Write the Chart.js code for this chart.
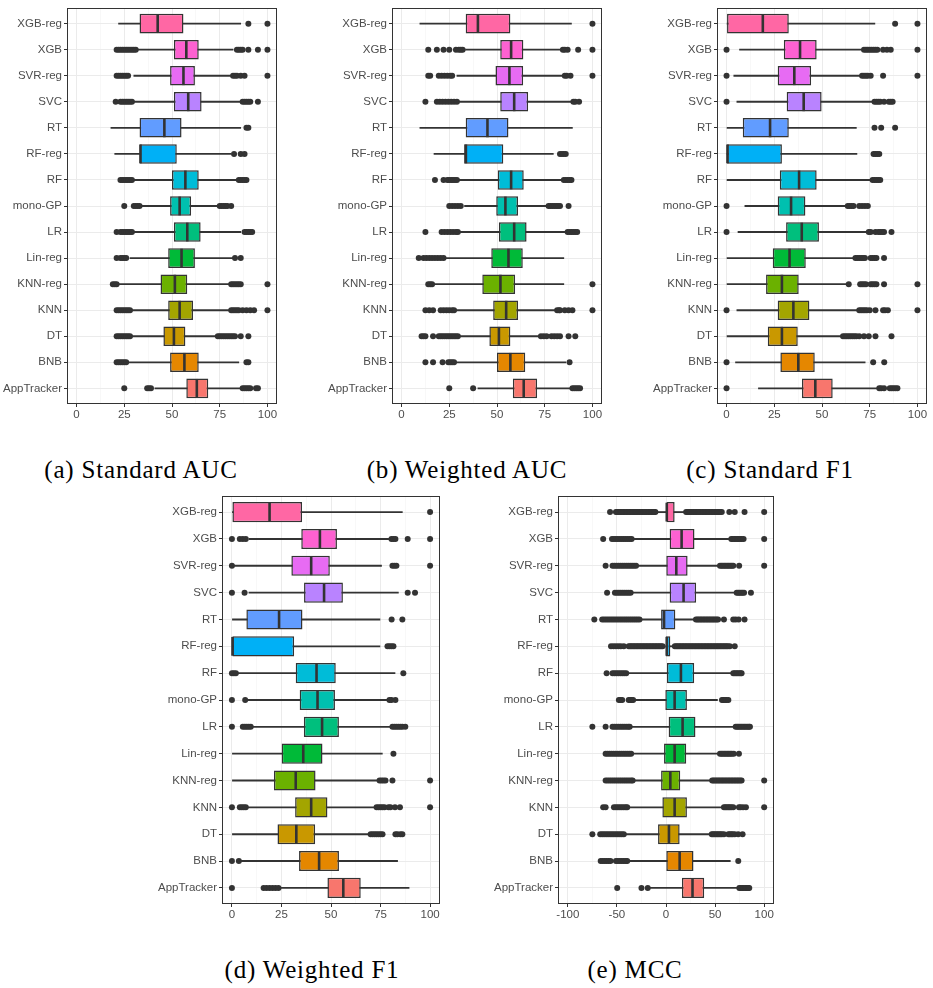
<!DOCTYPE html>
<html>
<head>
<meta charset="utf-8">
<script src="https://cdn.jsdelivr.net/npm/chart.js@4.4.1/dist/chart.umd.min.js"></script>
<style>
  body { margin: 0; background: #fff; width: 933px; height: 988px; position: relative; overflow: hidden; }
  canvas { position: absolute; }
  .cap {
    position: absolute; transform: translateX(-50%); white-space: nowrap;
    font-family: "Liberation Serif", serif; font-size: 25px; line-height: 25px;
    letter-spacing: 0.8px; color: #000;
  }
</style>
</head>
<body>
<canvas id="pa"></canvas>
<canvas id="pb"></canvas>
<canvas id="pc"></canvas>
<canvas id="pd"></canvas>
<canvas id="pe"></canvas>
<div class="cap" style="left:141px; top:457px">(a) Standard AUC</div>
<div class="cap" style="left:467px; top:457px">(b) Weighted AUC</div>
<div class="cap" style="left:770px; top:457px">(c) Standard F1</div>
<div class="cap" style="left:312px; top:957px">(d) Weighted F1</div>
<div class="cap" style="left:635px; top:957px">(e) MCC</div>
<script>
// methods, top to bottom
const methods = ["XGB-reg", "XGB", "SVR-reg", "SVC", "RT", "RF-reg", "RF", "mono-GP",
  "LR", "Lin-reg", "KNN-reg", "KNN", "DT", "BNB", "AppTracker"];
const boxColors = ["#FF67A4", "#FD61D1", "#E76BF3", "#B983FF", "#619CFF", "#00B0F6", "#00BCD8", "#00C0AF",
  "#00BF7D", "#00BA38", "#6BB100", "#A3A500", "#C99800", "#E58700", "#F8766D"];

const pctTicks = [0, 12.5, 25, 37.5, 50, 62.5, 75, 87.5, 100];
const pctLabels = [0, 25, 50, 75, 100];
const mccTicks = [-100, -75, -50, -25, 0, 25, 50, 75, 100];
const mccLabels = [-100, -50, 0, 50, 100];

// [whisker low, Q1, median, Q3, whisker high] per method
const aucStdStats = [
  [22, 33, 42.5, 56, 86], [32, 51, 57.5, 64, 82], [30, 49, 56, 62, 81], [30, 51, 58.5, 65.5, 86],
  [18, 33, 46, 55, 86], [20, 33, 33.5, 52.5, 81], [30, 50, 57, 64, 84], [34, 49, 54, 60, 74],
  [30, 51, 58, 65, 86], [28, 48, 55, 62, 82], [22, 44, 51.5, 58, 80], [29, 48, 54, 61, 80],
  [29, 45.5, 51, 57, 73], [27, 49, 56.5, 64, 85], [41, 57.5, 63, 69, 86]];
const aucStdOut = [
  [90, 100],
  [21, 22, 23, 24, 25, 26, 27, 28, 29, 30, 31, 84, 85, 86, 87, 90, 95, 100],
  [21, 22, 23, 24, 25, 26, 27, 82, 83, 84, 86, 88, 100],
  [20.5, 23, 24, 25, 26, 27, 28, 29, 87, 88, 89, 90, 91, 95],
  [89, 90],
  [82.5, 86, 88],
  [23, 24, 25, 26, 27, 28, 29, 85, 86, 87, 88, 89],
  [25, 30, 31, 32, 33, 75, 76, 77, 78, 79, 81],
  [21, 23, 24, 25, 26, 27, 28, 29, 88, 89, 90, 91, 92],
  [21, 23, 24, 25, 26, 83, 86],
  [19, 20, 21, 81, 82, 83, 84, 85, 86, 100],
  [21, 22, 23, 24, 25, 26, 27, 28, 81, 82, 83, 84, 85, 87, 89, 91, 93, 100],
  [21, 22, 23, 24, 25, 26, 27, 28, 74, 75, 76, 77, 78, 79, 80, 81, 82, 83, 86, 90],
  [21, 22, 23, 24, 25, 26, 89, 90],
  [25, 37, 38, 39, 87, 88, 89, 90, 91, 94, 95]];

const aucWStats = [
  [9.6, 33.6, 40, 57, 89], [33.5, 51.7, 57.4, 63.8, 83.5], [29, 49.2, 56.5, 63.7, 84], [29.5, 51.7, 59, 66.3, 89],
  [9.6, 33.6, 45, 56, 89.5], [17, 32.8, 33.7, 53.3, 79.5], [30, 50.4, 57.4, 64, 84], [33, 49.6, 54.4, 61, 76.5],
  [30, 51, 59, 65.5, 86], [22.5, 47, 56, 63.5, 85], [16.5, 42.3, 51.8, 59.5, 85], [28.5, 48, 54.8, 61, 80.5],
  [30, 46, 51, 57, 72.5], [29, 50, 57, 64.8, 86], [40, 58.3, 64, 71, 88.5]];
const aucWOut = [
  [100],
  [14, 18.5, 22, 25, 28.5, 30, 31, 32, 84.5, 85.5, 87, 92.5, 100],
  [14, 15, 19.5, 21, 22.5, 24, 25.5, 26.5, 85.5, 86.5, 88.5, 100],
  [12.5, 18.5, 20, 21.5, 23, 24.5, 26, 27.5, 29, 90, 91, 93],
  [],
  [83, 84, 85, 86],
  [17.5, 22, 24, 25, 26, 27, 28, 29, 85, 86, 87, 88, 89],
  [25, 26.5, 28, 29.5, 31, 77, 78, 79, 80, 81, 82, 83, 87.5],
  [12.5, 21, 22.5, 24, 25.5, 27, 28.5, 29.5, 87, 88, 89, 90, 91, 92],
  [9, 11.5, 13, 14.5, 16, 17.5, 19, 20.5, 22],
  [14, 15, 16, 100],
  [12.5, 14.5, 16.5, 20.5, 22, 23.5, 25, 26.5, 27.5, 81.5, 82.5, 83, 85.5, 87.5, 89.5, 100],
  [10.5, 11.5, 12.5, 16.5, 19.5, 20.5, 21.5, 22.5, 23.5, 24.5, 25.5, 26.5, 27.5, 28.5, 29.5,
    73, 74.5, 76, 78.5, 80, 81.5, 83, 87.5, 91],
  [12.5, 16.5, 21.5, 24.5, 25.5, 26.5, 27.5, 88],
  [25, 37.5, 89.5, 90.5, 91.5, 92.5, 93.5]];

const f1StdStats = [
  [0, 0, 19, 32.6, 77.7], [6.8, 30, 38.5, 47.2, 71.3], [3.8, 26.8, 35.5, 44.3, 70.4], [5.4, 31.5, 40.4, 49.8, 76.5],
  [0, 8.5, 22.8, 32.6, 68], [0, 0, 0.5, 29, 68.3], [0, 27.9, 38, 47.2, 75], [9.6, 26.8, 33.8, 41.3, 62.5],
  [6, 31.2, 39.4, 48.4, 74], [0, 24.2, 33, 41.5, 67], [0, 20.7, 29, 37.8, 62.5], [5.4, 26.8, 35, 43.4, 68.3],
  [0, 21.6, 29, 37.3, 60], [4.7, 28.2, 37.6, 46.2, 72.6], [16.7, 39.5, 46.5, 55.6, 79]];
const f1StdOut = [
  [88.3, 100],
  [0, 72, 73, 74, 75, 76, 77, 78, 79, 82, 84, 86, 100],
  [0, 71, 72, 73, 74, 75.5, 82, 100],
  [0, 77.5, 78.5, 79.5, 80.5, 82.5, 85, 86, 87],
  [77.5, 81, 88.3],
  [77, 78, 79, 80],
  [76.5, 77.5, 78.5, 79.5, 80.5],
  [0, 63.5, 64.5, 65.5, 66.5, 69.5, 71, 72.5, 74],
  [0, 74.5, 75.5, 78, 79.5, 80.5, 81.5, 82.5, 86.4],
  [67.5, 68.5, 69.5, 70.5, 71.5, 72.5, 75.5, 76.5, 77.5, 78.5, 82.5],
  [64, 70, 71, 72, 73, 75.5, 76.5, 77.5, 78.5, 82.5, 100],
  [0, 69.5, 70.5, 71.5, 72.5, 73.5, 75, 78, 82, 83, 84.5, 100],
  [61, 62, 63, 64, 65, 66, 67, 68, 69.5, 72, 74.5, 78, 86.4],
  [0, 76.8, 82.6],
  [0, 80, 81, 82.5, 85.5, 86.5, 87.5, 88.5, 89.5]];

const f1WStats = [
  [0, 0, 19, 35.4, 86], [8.6, 35, 44.4, 53, 79.8], [1, 30, 40, 49.4, 75.5], [8.6, 36.4, 46.5, 56, 84],
  [0, 7.3, 23.8, 35.6, 74.7], [0, 0, 0.3, 31.4, 74.7], [3, 32.2, 42.7, 52.4, 82.3], [8, 34.2, 43.2, 52, 78.4],
  [10, 36.3, 45.5, 54, 80.6], [0, 25.1, 36, 45.7, 75.9], [0, 21.2, 32.2, 42.2, 73.5], [7.6, 31.9, 40, 48.2, 72.2],
  [0, 23, 32.5, 42, 69], [4, 33.9, 44, 54, 83.6], [24, 48.2, 56.2, 65, 89.4]];
const f1WOut = [
  [100],
  [0, 4, 5.5, 7, 80.5, 81.5, 82.5, 88.7, 100],
  [0, 81, 82, 83, 100],
  [0, 6.4, 88.7, 92.4],
  [80.6, 86],
  [78.5, 79.5, 80.5, 81.5],
  [0, 1, 2, 86.5],
  [0, 6.7, 79.5, 80.5, 82.5],
  [0, 5.5, 6.5, 7.5, 8.5, 9.5, 81, 82, 83, 84, 85, 86, 87.5],
  [81.5],
  [74.5, 75.5, 76.5, 77.5, 81, 100],
  [0, 4, 5, 6, 7, 73, 74, 75, 76, 77, 79, 80, 82.3, 84.8, 100],
  [70, 71, 72, 73, 74, 75, 76, 82.5, 83.5, 85, 86],
  [0, 3.5],
  [0, 16, 17.5, 19, 20.5, 22, 23.5]];

const mccStats = [
  [-10, 0, 0.8, 8.8, 19.5], [-34, 3.7, 15.9, 29, 65.5], [-30, 0.3, 10.5, 22, 54], [-35.5, 3.7, 17.9, 30.7, 71],
  [-26, -5, -2, 9.5, 29.5], [-0.3, -0.3, 0.8, 4.4, 8], [-39.5, 1, 15.2, 28.7, 67.5], [-32.5, -0.7, 8.8, 21.3, 52.4],
  [-36.8, 2.7, 16.9, 30, 70], [-34.5, -2, 8.8, 20.6, 54], [-33.4, -5, 4.4, 14.5, 46], [-39.5, -3.7, 8.8, 21.3, 58.5],
  [-42, -8.1, 3, 13.9, 46], [-39.5, 0.3, 13.9, 28, 65.5], [-18, 16.2, 27, 38.9, 72]];
const mccOut = [
  [-57, -51, -49.5, -48, -46.5, -45, -43.5, -42, -40.5, -39, -37.5, -36, -34.5, -33, -31.5, -30, -28.5, -27,
    -25.5, -24, -22.5, -21, -19.5, -18, -16.5, -15, -13.5, -12, -10.8, 20.5, 22, 23.5, 25, 26.5, 28, 29.5, 31,
    32.5, 34, 35.5, 37, 38.5, 40, 41.5, 43, 44.5, 46, 47.5, 49, 50.5, 52, 53.5, 55, 56.8, 64.5, 70, 80, 100],
  [-64, -55, -53, -51, -49, -47, -45, -43, -41, -39, -37, -35, 66.5, 68, 69.5, 71, 72.5, 74, 75.5, 77, 79,
    100],
  [-61.5, -54.5, -52.5, -50.5, -48.5, -46.5, -44.5, -42.5, -40.5, -38.5, -36.5, -34.5, -32.5, -30.5, 55, 56.5,
    58, 59.5, 61, 62.5, 64, 65.5, 67, 68.5, 74.5, 100],
  [-60, -52, -50, -48, -46, -44, -42, -40, -38, -36, 72, 73.5, 75, 76.5, 78, 79.5, 86.5],
  [-73, -65, -63, -61, -59, -57, -55, -53, -51, -49, -47, -45, -43, -41, -39, -37, -35, -33, -31, -29, -27,
    30.5, 32, 33.5, 35, 36.5, 38, 39.5, 41, 42.5, 44, 45.5, 47, 48.5, 50, 51.5, 53, 59, 68.5, 71, 74, 80],
  [-56, -53.5, -51, -48.5, -46, -43, -38, -36.5, -35, -33.5, -32, -30.5, -29, -27.5, -26, -24.5, -23, -21.5,
    -20, -18.5, -17, -15.5, -14, -12.5, -11, -9.5, -8, -6.5, -5, -3.5, 9, 10.5, 12, 13.5, 15, 16.5, 18,
    19.5, 21, 22.5, 24, 25.5, 27, 28.5, 30, 31.5, 33, 34.5, 36, 37.5, 39, 40.5, 42, 43.5, 45, 46.5, 48, 49.5,
    51, 52.5, 54, 55.5, 57, 58.5, 60, 61.5, 63, 65, 70],
  [-60.5, -54.5, -52.5, -50.5, -48.5, -46.5, -44.5, -42.5, -40.5, 68.5, 70, 71.5, 73, 74.5, 76, 77],
  [-48, -46.5, -44.6, -38, -36.5, -35, -33.5, 57, 58.5, 60, 61.5, 63.5],
  [-75, -61.5, -54.5, -52.5, -50.5, -48.5, -46.5, -44.5, -42.5, -40.5, -38.5, -37, 71, 72.5, 74, 75.5, 77,
    78.5, 80, 81.5, 83, 84.5, 85.5],
  [-61.5, -59.5, -57.5, -55.5, -53.5, -51.5, -49.5, -47.5, -45.5, -43.5, -41.5, -39.5, -37.5, -35.5, 55, 56.5,
    58, 59.5, 61, 62.5, 64, 65.5, 67, 69, 74.3],
  [-61.5, -59.5, -57.5, -55.5, -53.5, -51.5, -49.5, -47.5, -45.5, -43.5, -41.5, -39.5, -37.5, -35.5, -34, 47,
    48.5, 50, 51.5, 53, 54.5, 56, 57.5, 59, 60.5, 62, 63.5, 65, 66.5, 68, 69.5, 71, 72.5, 74, 75.5, 77, 100],
  [-64, -61.5, -53, -51, -49, -47, -45, -43, -41, -39.5, 59, 60.5, 62, 63.5, 65, 66.5, 68.5, 74.3, 76, 78.5,
    81.4, 100],
  [-75, -67, -65, -63, -61, -59, -57, -55, -53, -51, -49, -47, -45, -43, 46.6, 48, 49.5, 51, 52.5, 54, 55.5,
    57, 59, 63.5, 65, 66.5, 68, 70, 73.5, 78],
  [-66.5, -64.5, -62.5, -60.5, -58.5, -56.5, -51, -49, -47, -45, -43, -41, -39.5, 73.6],
  [-49.7, -25, -18.6, 74.7, 76.2, 77.7, 79.2, 80.7, 82.2, 83.7, 84.8]];

const ink = "#333333";
const tickFont = { family: "Liberation Sans", size: 11.5 };
const Y_AXIS_W = 70;
const X_AXIS_H = 24;

// panel border like theme_bw
const frame = {
  id: "frame",
  afterDraw(chart) {
    const { ctx, chartArea: a } = chart;
    ctx.save();
    ctx.strokeStyle = ink;
    ctx.lineWidth = 1;
    ctx.strokeRect(a.left + 0.5, a.top + 0.5, a.right - a.left - 1, a.bottom - a.top - 1);
    ctx.restore();
  },
};

function mountPanel(id, box, stats, outliers, range, tickList, labelList) {
  const canvas = document.getElementById(id);
  let w = Y_AXIS_W + box.w + 14;
  let h = box.h + X_AXIS_H + 10;
  canvas.width = w;
  canvas.height = h;
  canvas.style.width = w + "px";
  canvas.style.height = h + "px";

  const isMajor = (c) => !!c.tick && labelList.includes(c.tick.value);
  const outPoints = [];
  outliers.forEach((list, i) => list.forEach((v) => outPoints.push({ x: v, y: i })));

  const chart = new Chart(canvas, {
    type: "bar",
    data: {
      datasets: [
        {
          type: "scatter",
          data: stats.map((s, i) => ({ x: s[2], y: i })),
          pointStyle: "line",
          pointRotation: 90,
          pointRadius: 9.4,
          pointBorderWidth: 2.6,
          pointBorderColor: ink,
          order: 1,
        },
        {
          indexAxis: "y",
          data: stats.map((s, i) => ({ x: [s[1], s[3]], y: i })),
          backgroundColor: boxColors,
          borderColor: ink,
          borderWidth: 1.5,
          borderSkipped: false,
          grouped: false,
          categoryPercentage: 1,
          barPercentage: 0.75,
          order: 2,
        },
        {
          indexAxis: "y",
          data: stats.map((s, i) => ({ x: [s[0], s[4]], y: i })),
          backgroundColor: ink,
          borderWidth: 0,
          grouped: false,
          barThickness: 1.2,
          order: 3,
        },
        {
          type: "scatter",
          data: outPoints,
          pointRadius: 3,
          pointBackgroundColor: ink,
          pointBorderWidth: 0,
          order: 4,
        },
      ],
    },
    options: {
      responsive: false,
      maintainAspectRatio: false,
      animation: false,
      events: [],
      layout: { padding: { top: 4, right: 12, left: 0, bottom: 0 } },
      plugins: { legend: { display: false }, tooltip: { enabled: false } },
      scales: {
        x: {
          type: "linear",
          offset: false,
          bounds: "data",
          min: range[0],
          max: range[1],
          afterBuildTicks(s) { s.ticks = tickList.map((v) => ({ value: v })); },
          afterFit(s) { s.height = X_AXIS_H; },
          border: { display: false },
          grid: {
            offset: false,
            color: (c) => (isMajor(c) ? "#EBEBEB" : "#F3F3F3"),
            lineWidth: (c) => (isMajor(c) ? 1 : 0.6),
            tickColor: (c) => (isMajor(c) ? ink : "rgba(0,0,0,0)"),
            tickLength: 3,
          },
          ticks: {
            autoSkip: false,
            maxRotation: 0,
            padding: 1,
            color: "#4D4D4D",
            font: tickFont,
            callback: (v) => (labelList.includes(v) ? String(v) : ""),
          },
        },
        y: {
          type: "linear",
          offset: false,
          bounds: "data",
          min: -0.6,
          max: methods.length - 0.4,
          reverse: true,
          afterBuildTicks(s) { s.ticks = methods.map((_, i) => ({ value: i })); },
          afterFit(s) { s.width = Y_AXIS_W; },
          border: { display: false },
          grid: { offset: false, color: "#EBEBEB", lineWidth: 1, tickColor: ink, tickLength: 3 },
          ticks: {
            autoSkip: false,
            padding: 2,
            color: "#4D4D4D",
            font: tickFont,
            callback: (v) => methods[v],
          },
        },
      },
    },
    plugins: [frame],
  });

  // size the canvas so the plotting area matches the panel box, then place it
  let a = chart.chartArea;
  w += box.w - (a.right - a.left);
  h += box.h - (a.bottom - a.top);
  chart.resize(w, h);
  a = chart.chartArea;
  canvas.style.left = (box.left - a.left) + "px";
  canvas.style.top = (box.top - a.top) + "px";
  return chart;
}

mountPanel("pa", { left: 67, top: 8, w: 210, h: 396 }, aucStdStats, aucStdOut, [-5, 105], pctTicks, pctLabels);
mountPanel("pb", { left: 392, top: 8, w: 210, h: 396 }, aucWStats, aucWOut, [-5, 105], pctTicks, pctLabels);
mountPanel("pc", { left: 717, top: 8, w: 210, h: 396 }, f1StdStats, f1StdOut, [-5, 105], pctTicks, pctLabels);
mountPanel("pd", { left: 222, top: 496, w: 218, h: 408 }, f1WStats, f1WOut, [-5, 105], pctTicks, pctLabels);
mountPanel("pe", { left: 558, top: 496, w: 216, h: 408 }, mccStats, mccOut, [-110, 110], mccTicks, mccLabels);
</script>
</body>
</html>
